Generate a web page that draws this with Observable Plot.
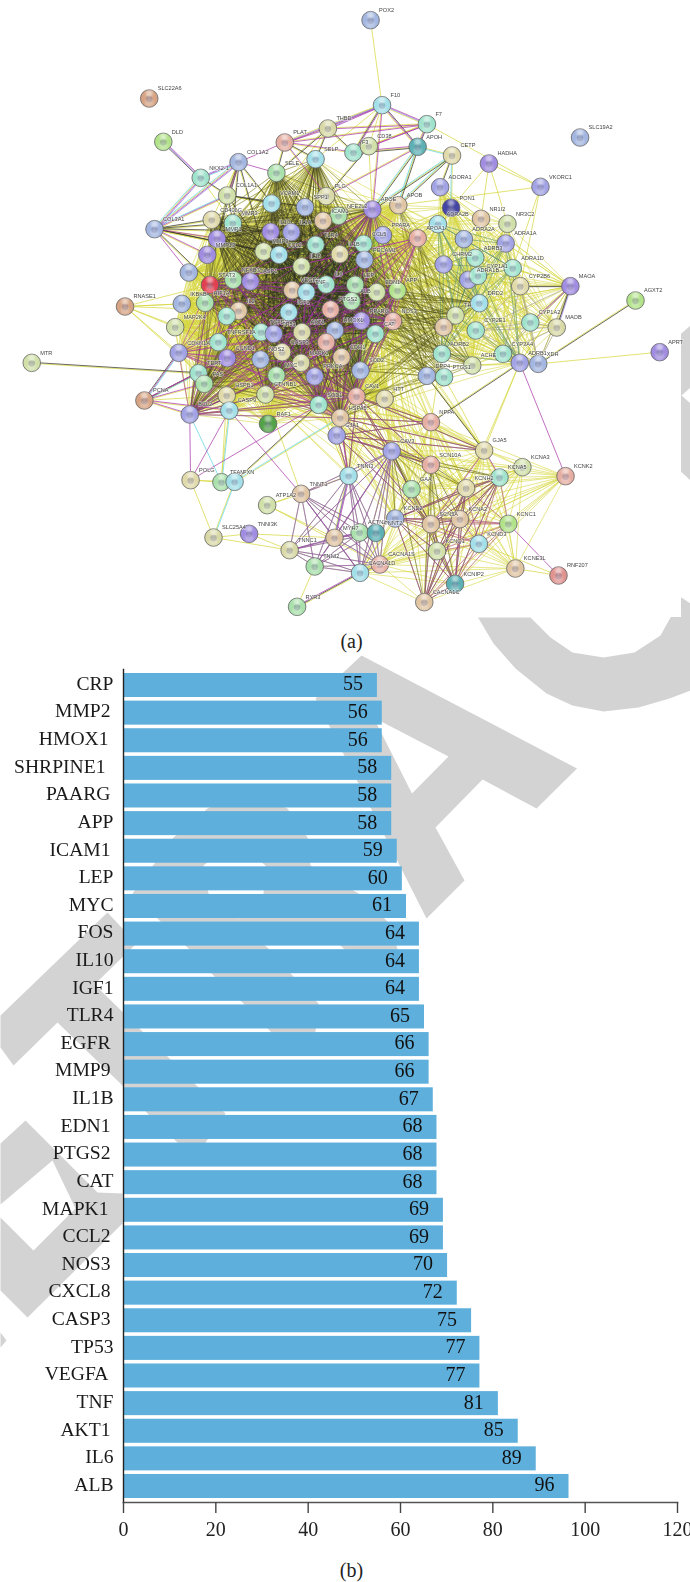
<!DOCTYPE html>
<html><head><meta charset="utf-8">
<script src="https://cdn.jsdelivr.net/npm/d3@7"></script>
<script src="https://cdn.jsdelivr.net/npm/@observablehq/plot@0.6"></script>
<style>html,body{margin:0;padding:0;background:#fff}#page{position:relative;width:690px;height:1582px;overflow:hidden}#page svg{position:absolute;left:0;top:0}</style>
</head><body><div id="page"></div>
<script>
// ---------- panel (b) values ----------
const barNames = ["CRP","MMP2","HMOX1","SHRPINE1","PAARG","APP","ICAM1","LEP","MYC","FOS","IL10","IGF1","TLR4","EGFR","MMP9","IL1B","EDN1","PTGS2","CAT","MAPK1","CCL2","NOS3","CXCL8","CASP3","TP53","VEGFA","TNF","AKT1","IL6","ALB"];
const barLabels = [55,56,56,58,58,58,59,60,61,64,64,64,65,66,66,67,68,68,68,69,69,70,72,75,77,77,81,85,89,96];
const barLengths = [55,56.05,56.05,58.1,58.1,58.1,59.3,60.4,61.3,64.1,64.1,64.1,65.2,66.2,66.2,67.1,67.9,67.9,67.9,69.3,69.3,70.2,72.3,75.4,77.2,77.2,81.2,85.5,89.4,96.5];
const xTicks = [0,20,40,60,80,100,120];
const nameGapSmall = ["CRP","APP","LEP","MYC","FOS","IL10","IGF1","IL6","ALB","TLR4","IL1B","TNF","CAT","TP53"];
const nameGapLarge = ["HMOX1","VEGFA","MAPK1"];
const nameGapHuge = ["SHRPINE1"];

// ---------- panel (a) network ----------
const geneNames = [
"POX2","SLC22A6","F10","F7","THBD","PLAT","F3","CD38","APOH","CETP",
"HADHA","DLD","SLC19A2","VKORC1","COL1A2","NKX2-1","SELP","SELE","COL1A1","VCAM1",
"SPP1","PLG","ADORA1","APOB","APOE","PON1","NFE2L2","ICAM1","CD40LG","MMP3",
"COL3A1","IL10","IL1A","MMP1","PPARA","ADRA2B","NR1I2","NR3C2","ADRA2A","ADRA1A",
"APOA1","TLR4","CCL5","MMP13","MMP9","CCL2","IL1B","PECAM1","CHRM2","ADRB3",
"ADRA1D","CYP2B6","MAOA","AGXT2","~a","IL18","NFKB1","CASP1","STAT3","VEGFA",
"TNF","IL6","LEP","EDN1","APP","ADRA1B","CYP1A1","DRD2","RNASE1","IKBKB",
"HIF1A","IL2","~b","IGF1","ALB","PTGS2","PPARG","NOS3","TH","CYP1A2",
"MAOB","MAP2K4","TGFB1","TP53","AKT1","HMOX1","CAT","~c","CYP2E1","TNFRSF1A",
"CDKN1A","CCND1","NOS2","CASP3","MAPK1","~d","CDH1","PRKCA","MYC","SOD2",
"TERT","FAS","HSPB1","CTNNB1","PCNA","BCL2","CASP9","RAF1","SOD1","CAV1",
"HTT","HSPA5","GJA1","NPPA","CAV3","GJA5","SCN10A","KCNA3","KCNA5","KCNK2",
"POLG","TFAM","FXN","TNNI3","GAA","KCNH2","TNNT1","ATP1A2","KCND2","SCN5A",
"KCNA2","KCNC1","SLC25A4","TNNI3K","MYH7","ACTN2","TNNT2","TNNC1","KCNQ1","KCND3",
"TNNI2","CACNA1S","CACNA1D","KCNE3L","KCNIP2","RNF207","RYR3","CACNA1C","MTR","ADRB2",
"ACHE","CYP3A4","ADRB1","XDH","APRT","DPP4","PTGS1"];
const geneX = [
841,338,867,969,744,646,802,837,948,1026,
1110,370,1317,1227,541,455,716,627,515,616,
692,740,999,904,845,1024,768,733,480,528,
350,614,661,492,869,994,1092,1152,1053,1148,
948,716,825,470,598,633,771,827,1007,1079,
1164,1181,1295,1443,428,684,529,568,476,663,
695,740,806,855,902,1063,1085,1088,283,412,
465,541,514,655,798,750,820,892,1034,1204,
1264,397,592,621,685,760,852,1007,1080,495,
405,515,591,640,683,740,775,714,627,818,
450,463,514,602,327,430,520,608,723,809,
873,772,764,978,889,1099,978,1186,1134,1284,
432,502,532,791,934,1058,683,606,897,978,
1044,1154,484,565,759,816,853,657,992,1087,
714,862,817,1170,1033,1268,674,963,71,1003,
1072,1142,1180,1222,1498,969,1008];
const geneY = [
59,294,314,371,384,426,456,437,439,465,
489,424,411,559,485,532,476,517,585,609,
620,587,560,614,627,622,646,661,658,668,
686,694,695,715,704,671,655,670,716,729,
713,733,730,763,753,763,761,778,792,772,
803,857,857,900,816,798,838,843,853,869,
875,852,853,875,870,838,826,908,918,910,
907,931,947,935,902,927,961,962,945,966,
981,980,995,1000,995,990,1000,980,990,1025,
1057,1073,1077,1055,1087,1025,1070,1128,1125,1110,
1118,1150,1185,1182,1200,1242,1230,1270,1213,1188,
1195,1252,1305,1265,1352,1350,1393,1400,1431,1427,
1439,1445,1444,1426,1466,1463,1480,1514,1554,1571,
1556,1570,1611,1600,1612,1596,1597,1649,1652,1630,
1698,1692,1717,1704,1750,1725,1819,1805,1087,1060,
1095,1060,1087,1090,1055,1126,1130];
const geneHue = [
"blue","brown","cyan","mint","khaki","pink","mint","pale","teal","beige",
"violet","lime","blue","peri","blue","mint","cyan","green","pale","cyan",
"blue","khaki","peri","tan","violet","deep","green","tan","beige","mint",
"blue","violet","peri","violet","peri","cyan","tan","pale","blue","peri",
"pink","mint","mint","violet","pale","cyan","beige","blue","peri","mint",
"mint","beige","violet","lime","blue","pale","green","violet","red","tan",
"cyan","mint","green","pale","lime","peri","mint","cyan","brown","blue",
"green","tan","mint","cyan","green","pink","violet","pink","pale","mint",
"khaki","pale","mint","peri","khaki","blue","mint","tan","mint","mint",
"peri","violet","blue","beige","khaki","pink","tan","peri","green","blue",
"mint","green","beige","pale","brown","peri","cyan","dgreen","mint","pink",
"beige","tan","peri","pink","peri","beige","pink","pale","mint","pink",
"beige","green","cyan","cyan","green","beige","tan","pale","blue","tan",
"tan","lime","khaki","violet","tan","green","teal","khaki","pale","cyan",
"green","pink","cyan","tan","teal","salmon","green","tan","pale","mint",
"pale","mint","peri","blue","violet","blue","mint"];
const hueColors = {blue:"#a3b6e0",cyan:"#a3dfe8",mint:"#a0e3cc",teal:"#5cb0b4",green:"#a9e0ab",lime:"#b2e28a",pale:"#d0e0a8",khaki:"#d9d9a8",beige:"#e0d9a9",tan:"#e0c5a3",brown:"#d6a484",pink:"#e6aea2",salmon:"#e09490",red:"#e0404f",violet:"#a08ce0",peri:"#a2a3e4",deep:"#4444a4",dgreen:"#52a248"};
const strandColors = {y:"#d6d63e",k:"#2f2f24",m:"#a936a9",c:"#5ed4e4",v:"#8a7ce0",g:"#4fb04f"};

const coreGenes = ["SELE","SELP","VCAM1","SPP1","PLG","ICAM1","NFE2L2","CD40LG","MMP3","MMP1","IL10","IL1A","TLR4","CCL5","MMP9","CCL2","IL1B","PECAM1","IL18","NFKB1","CASP1","STAT3","VEGFA","TNF","IL6","LEP","EDN1","APP","IKBKB","HIF1A","IL2","~b","IGF1","ALB","PTGS2","PPARG","NOS3","TGFB1","TP53","AKT1","HMOX1","CAT","TNFRSF1A","CDKN1A","CCND1","NOS2","CASP3","MAPK1","~d","CDH1","PRKCA","MYC","SOD2","TERT","FAS","HSPB1","CTNNB1","SOD1","CAV1","HTT","HSPA5","APOE","APOB","PPARA","APOA1","MMP13","~a","MAP2K4","BCL2","CASP9","RAF1"];
const darkCore = ["SELE","SELP","VCAM1","SPP1","ICAM1","NFE2L2","CD40LG","MMP3","MMP1","IL10","TLR4","CCL5","MMP9","CCL2","IL1B","PECAM1","NFKB1","STAT3","VEGFA","TNF","IL6","LEP","EDN1","APP","HIF1A","IL2","IGF1","ALB","PTGS2","PPARG","NOS3","TP53","AKT1","CAT","CASP3","MAPK1","MYC","SOD2","CTNNB1","BCL2","CAV1","FAS","HSPA5","SOD1","APOE","TGFB1","HMOX1"];
const magentaCore = ["STAT3","TNF","AKT1","MAPK1","CTNNB1","NFKB1","CDKN1A","CCND1","CAV1","HSPA5","APP","NOS3","APOE","BCL2","APOA1","SOD1"];
const greenCore = ["VEGFA","IGF1","TNF","ALB","IL6","EDN1","LEP","NOS3","PTGS2","AKT1","MMP9","CCL2","IL1B","PPARA","CCL5","CAT","SOD2","MYC"];
const rightGenes = ["ADORA1","PON1","ADRA2B","NR1I2","NR3C2","ADRA2A","ADRA1A","CHRM2","ADRB3","ADRA1D","CYP2B6","ADRA1B","CYP1A1","DRD2","TH","CYP1A2","MAOB","MAOA","~c","CYP2E1","ADRB2","ACHE","CYP3A4","ADRB1","XDH"];
const rightDark = ["ADRA2B","ADRA2A","ADRA1A","ADRA1B","ADRA1D","CHRM2","DRD2","ADRB2","ADRB1","TH"];
const rightEnzymes = ["MAOA","MAOB","CYP1A2","CYP3A4","CYP2E1","CYP2B6","XDH"];
const coreToRight = ["IL6","TNF","ALB","AKT1","NOS3","EDN1","VEGFA","LEP","CAV1","SOD2","CAT","APP","APOE","APOB","PPARA","CCL5","ICAM1","PECAM1","HSPA5","APOA1"];
const rightTargets = ["ADRA2A","ADRB2","TH","CHRM2","ADRB1","DPP4","PTGS1","ACHE","CYP2E1","CYP1A1","~c","ADRA1B","DRD2","ADRA2B","PON1"];
const rightTargetsDark = ["ADRB2","TH","DPP4","PTGS1","ACHE","DRD2","~c"];
const bridgeUp = ["CAV1","HSPA5","GJA1","SOD1","HTT","SOD2","CTNNB1","NOS3","EDN1","LEP","MAPK1","PRKCA"];
const bridgeDown = ["NPPA","CAV3","SCN10A","GJA5","TNNI3","GAA","KCNH2","SCN5A","KCND2"];
const bridgeDarkUp = ["HSPA5","GJA1","CAV1"];
const bridgeDarkDown = ["CAV3","NPPA","TNNI3","SCN10A","SCN5A","GJA5"];
const ionGenes = ["KCNA3","KCNA5","KCNK2","KCNH2","KCND2","SCN5A","KCNA2","KCNC1","KCNQ1","KCND3","KCNE3L","KCNIP2","SCN10A","CAV3","CACNA1C","CACNA1D","CACNA1S","GAA","GJA5","NPPA"];
const ionMagenta = ["KCNA5","KCNH2","KCND2","SCN5A","KCNA2","KCNC1","KCNQ1","KCND3","KCNIP2","CACNA1C"];
const ionDark = ["KCNH2","SCN5A","KCNA5","KCND2","KCNQ1","KCNIP2","CACNA1C","SCN10A","CAV3","KCNA2"];
const muscleGenes = ["TNNI3","TNNT1","TNNC1","TNNI2","MYH7","ACTN2","TNNT2","CACNA1S","CACNA1D","CAV3"];
const edgeList = ["POX2|F10|y","F10|F7|mvy","F10|THBD|mvy","F10|PLAT|mvy","F10|APOH|kmy","F10|F3|mky","F10|SELP|y","F10|CD38|y","F10|APOE|my","F7|THBD|my","F7|PLAT|my","F7|APOH|kmy","F7|F3|my","F7|CD38|my","F7|VKORC1|y","APOH|CETP|yc","APOH|APOB|kyc","APOH|APOE|kyc","APOH|PLG|my","APOH|F3|kym","THBD|PLAT|my","THBD|SELP|ky","THBD|SELE|ky","THBD|F3|ky","THBD|VCAM1|y","PLAT|SELE|ky","PLAT|SELP|ky","PLAT|PLG|my","PLAT|F3|my","PLAT|COL1A2|m","CD38|APOE|y","CD38|PLG|ky","CETP|APOB|kyc","CETP|APOE|kyc","CETP|ADORA1|ky","CETP|PON1|yc","HADHA|NR1I2|y","HADHA|NR3C2|y","HADHA|VKORC1|y","HADHA|PON1|y","VKORC1|APOB|y","VKORC1|ADRA1D|y","VKORC1|CYP2B6|y","DLD|NKX2-1|mvk","NKX2-1|COL1A2|vmc","NKX2-1|COL3A1|vmyc","NKX2-1|COL1A1|ky","NKX2-1|MMP3|y","COL1A2|COL1A1|mky","COL1A2|COL3A1|vmyc","COL1A2|MMP3|ky","COL1A2|MMP1|ky","COL1A2|SELE|m","COL1A2|CD40LG|y","COL1A2|VCAM1|ky","COL1A2|MMP9|ky","COL1A1|COL3A1|ymc","COL1A1|MMP1|ky","COL1A1|MMP3|ky","COL1A1|MMP9|ky","COL1A1|SPP1|ky","COL1A1|VCAM1|ky","COL3A1|CD40LG|ky","COL3A1|MMP3|ky","COL3A1|MMP1|my","COL3A1|MMP13|my","COL3A1|~a|m","COL3A1|IL10|ky","COL3A1|MMP9|ky","COL3A1|IL1B|y","COL3A1|CCL2|ky","COL3A1|TGFB1|ky","RNASE1|IKBKB|y","RNASE1|HIF1A|y","RNASE1|MAP2K4|y","RNASE1|IL2|y","RNASE1|STAT3|y","RNASE1|TNFRSF1A|y","RNASE1|CDKN1A|y","RNASE1|TERT|y","MTR|TERT|ky","PCNA|CDKN1A|kmc","PCNA|TERT|mc","PCNA|FAS|my","PCNA|BCL2|my","PCNA|CCND1|my","PCNA|TP53|ky","PCNA|CASP9|my","PCNA|HSPB1|y","AGXT2|XDH|ky","APRT|XDH|y","KCNK2|ADRB1|m","ADRB1|GJA5|y","ADRB1|NPPA|ky","ADRB1|KCNH2|y","GJA5|DPP4|ky","GJA5|PTGS1|y","FXN|SOD1|ky","FXN|HSPA5|cy","FXN|SLC25A4|cy","FXN|TFAM|mc","FXN|POLG|y","TFAM|POLG|y","POLG|SLC25A4|y","POLG|BCL2|m","POLG|CASP9|m","POLG|SOD1|m","TFAM|BCL2|c","TFAM|CASP9|yc","TFAM|HSPB1|y","SLC25A4|TNNI3K|y","SLC25A4|TNNC1|y","TNNI3K|TNNC1|y","TNNI3K|MYH7|y","ATP1A2|TNNT1|y","ATP1A2|TNNI3|y","ATP1A2|MYH7|y","ATP1A2|CACNA1S|y","TNNT1|CASP9|m","TNNT1|CTNNB1|y","RYR3|CACNA1D|mky","RYR3|TNNI2|y","RNF207|KCNE3L|y","RNF207|KCNC1|m","RNF207|KCND3|y","MAOA|CYP2B6|ky","MAOA|ADRA1D|y","MAOA|CYP1A2|my","MAOA|MAOB|vky","MAOA|ADRB1|y","MAOA|XDH|y","MAOA|CYP3A4|y","MAOA|DRD2|y","MAOB|CYP1A2|y","NPPA|ADRB2|y","NPPA|CAV1|y","GJA5|KCNA5|my","GJA5|SCN5A|my","TNNI3|MYH7|mcy","TNNI3|HSPA5|my"];

// ---------- the watermark behind the panels ----------
const markA = [[361,655],[576.5,768],[536,808],[482,779],[435,827],[464,880],[426,918],[315,698]];
const markAHole = [[373,717],[448,756],[411.5,793]];
const markR = [[245,790],[287,808],[307,837],[310,865],[358,893],[387,921],[397,948],[372,970],[343,948],[325,930],[253,935],[268,948],[292,975],[318,1003],[315,1031],[292,1050],[270,1031],[243,1003],[213,975],[188,948],[160,921],[132,893],[173,837],[207,808]];
const markRHole = [[235,840],[265,865],[263,893],[238,918],[208,893],[203,865]];
const markT = [[107,912],[136,943],[94,984],[142,1031],[170,1059],[197,1086],[225,1113],[205,1142],[190,1155],[177,1142],[147,1113],[122,1085],[57,1022],[13,1065],[0,1047],[0,1015]];
const markE = [[25,1120],[97,1192],[122,1193],[122,1223],[27,1317],[0,1290],[0,1217],[33,1250],[75,1208],[52,1160],[0,1204],[0,1143]];
const markTip = [[0,1332],[6,1340],[0,1347]];
const markC = [[477.5,617],[493,643],[515,668],[546,693],[572,705],[603,711],[638,707],[669,698],[690,690],[690,603],[681,597],[670,617],[660,635],[634,652],[603,657],[572,652],[550,637],[530,617]];
const markTop = [[675,338],[690,325],[690,387],[681,395],[690,403],[690,480],[675,466]];

// ---------- tables built from the lists ----------
const genes = geneNames.map((name,i)=>({name,x:geneX[i]*690/1568,y:geneY[i]/3,fill:hueColors[geneHue[i]]}));
const byName = new Map(genes.map(g=>[g.name,g]));
const strand = (a,b,key,off=0,w=.7,op=.85)=>{
  const A=byName.get(a),B=byName.get(b);
  const L=Math.hypot(B.x-A.x,B.y-A.y)||1,nx=-(B.y-A.y)/L*off,ny=(B.x-A.x)/L*off;
  return {x1:A.x+nx,y1:A.y+ny,x2:B.x+nx,y2:B.y+ny,stroke:strandColors[key],w,op,key};
};
const allPairs = (list,key,w,op)=>list.flatMap((a,i)=>list.slice(i+1).map(b=>strand(a,b,key,0,w,op)));
const crossPairs = (l1,l2,key,w,op)=>l1.flatMap(a=>l2.filter(b=>b!==a).map(b=>strand(a,b,key,0,w,op)));
const explicit = edgeList.flatMap(e=>{const [a,b,ks]=e.split("|");return [...ks].map((k,i)=>strand(a,b,k,(i-(ks.length-1)/2)*.95,.8,.9));});
const order = {y:0,g:1,c:2,v:3,k:4,m:5};
const edges = [
  ...allPairs(coreGenes,"y",.65,.85),
  ...allPairs(rightGenes,"y",.65,.85),
  ...crossPairs(coreToRight,rightTargets,"y",.65,.85),
  ...crossPairs(bridgeUp,bridgeDown,"y",.7,.85),
  ...allPairs(ionGenes,"y",.7,.85),
  ...allPairs(muscleGenes,"y",.7,.85),
  ...allPairs(greenCore,"g",.6,.6),
  ...allPairs(muscleGenes,"c",.6,.8),
  ...allPairs(rightDark,"c",.55,.6),
  ...allPairs(rightEnzymes,"v",.6,.6),
  ...allPairs(darkCore,"k",.55,.55),
  ...allPairs(rightDark,"k",.5,.4),
  ...crossPairs(coreToRight,rightTargetsDark,"k",.5,.5),
  ...crossPairs(bridgeDarkUp,bridgeDarkDown,"k",.6,.7),
  ...allPairs(ionDark,"k",.6,.7),
  ...allPairs(magentaCore,"m",.75,.75),
  ...allPairs(ionMagenta,"m",.7,.7),
  ...allPairs(muscleGenes,"m",.75,.8),
  ...crossPairs(bridgeDarkUp,bridgeDarkDown,"m",.7,.75),
  ...explicit
].sort((a,b)=>order[a.key]-order[b.key]);

const rings = [markA,markR,markT,markE,markTip,markC,markTop].flatMap((r,id)=>r.map(([x,y])=>({x,y,id})));
const holes = [markAHole,markRHole].flatMap((r,id)=>r.map(([x,y])=>({x,y,id})));
const labelled = genes.filter(g=>!g.name.startsWith("~"));
const soft = "blur(0.4px)";

// ---------- layer 1: watermark and panel (a) ----------
const page = Plot.plot({
  width:690,height:1582,margin:0,
  x:{domain:[0,690],range:[0,690],axis:null},
  y:{domain:[0,1582],range:[0,1582],axis:null},
  color:{type:"identity"},
  style:{background:"#fff"},
  marks:[
    Plot.line(rings,{x:"x",y:"y",z:"id",fill:"#d3d3d3",stroke:"none"}),
    Plot.line(holes,{x:"x",y:"y",z:"id",fill:"#fff",stroke:"none"}),
    Plot.rect([{a:0,b:681,c:0,d:617}],{x1:"a",x2:"b",y1:"c",y2:"d",fill:"#fff"}),
    Plot.link(edges,{x1:"x1",y1:"y1",x2:"x2",y2:"y2",stroke:"stroke",strokeWidth:"w",strokeOpacity:"op",imageFilter:"blur(0.25px)"}),
    Plot.dot(genes,{x:"x",y:"y",r:8.8,fill:"fill",stroke:"#5f5f5f",strokeWidth:.8,imageFilter:soft}),
    Plot.dot(genes,{x:"x",y:"y",dy:.5,r:3.2,fill:"#54547a",fillOpacity:.34,imageFilter:soft}),
    Plot.dot(genes,{x:"x",y:"y",dy:4.2,r:4.4,fill:"#fff",fillOpacity:.28,imageFilter:"blur(1px)"}),
    Plot.dot(genes,{x:"x",y:"y",dy:-5,r:3.4,fill:"#fff",fillOpacity:.5,imageFilter:"blur(.9px)"}),
    Plot.text(labelled,{x:"x",y:"y",text:"name",dx:8.5,dy:-10,textAnchor:"start",fontSize:5.6,fontFamily:"'Liberation Sans',sans-serif",fill:"#444",stroke:"#fff",strokeWidth:1.4,strokeOpacity:.55,imageFilter:"blur(0.2px)"}),
    Plot.text(["(a)"],{x:()=>351,y:()=>641.5,text:d=>d,fontSize:20,fontFamily:"'Liberation Serif',serif",fill:"#222"}),
    Plot.text(["(b)"],{x:()=>351,y:()=>1570,text:d=>d,fontSize:20,fontFamily:"'Liberation Serif',serif",fill:"#222"})
  ]
});

// ---------- layer 2: panel (b) ----------
const bars = barNames.map((name,i)=>({name,label:barLabels[i],len:barLengths[i]}));
const serif = "'Liberation Serif',serif";
const inGroup = (list)=>bars.filter(b=>list.includes(b.name));
const otherNames = bars.filter(b=>![...nameGapSmall,...nameGapLarge,...nameGapHuge].includes(b.name));
const nameMark = (rows,dx)=>Plot.text(rows,{x:()=>0,y:"name",text:"name",textAnchor:"end",dx,dy:-2,fontSize:19.6,fontFamily:serif,fill:"#1a1a1a"});
const chart = Plot.plot({
  width:690,height:1582,
  marginLeft:123,marginRight:13,marginTop:669,marginBottom:80,
  x:{domain:[0,120],axis:null},
  y:{domain:barNames,range:[673,1498],paddingInner:.13,paddingOuter:0,round:false,axis:null},
  style:{background:"transparent"},
  marks:[
    Plot.barX(bars,{x:"len",y:"name",fill:"#5eafdc"}),
    Plot.text(bars,{x:"len",y:"name",text:"label",dx:-24.5,dy:-1.5,textAnchor:"middle",fontSize:20,fontFamily:serif,fill:"#111"}),
    nameMark(inGroup(nameGapSmall),-10),
    nameMark(otherNames,-13),
    nameMark(inGroup(nameGapLarge),-15),
    nameMark(inGroup(nameGapHuge),-18),
    Plot.frame({anchor:"left",stroke:"#222",strokeWidth:1.4}),
    Plot.frame({anchor:"bottom",stroke:"#555",strokeWidth:1.6}),
    Plot.axisX({ticks:xTicks,tickSize:11,tickPadding:8,stroke:"#444",strokeWidth:1.4,fontSize:20,fontFamily:serif,color:"#222",tickFormat:d=>String(d),label:null})
  ]
});

const host = document.getElementById("page");
host.append(page,chart);
</script>
</body></html>
